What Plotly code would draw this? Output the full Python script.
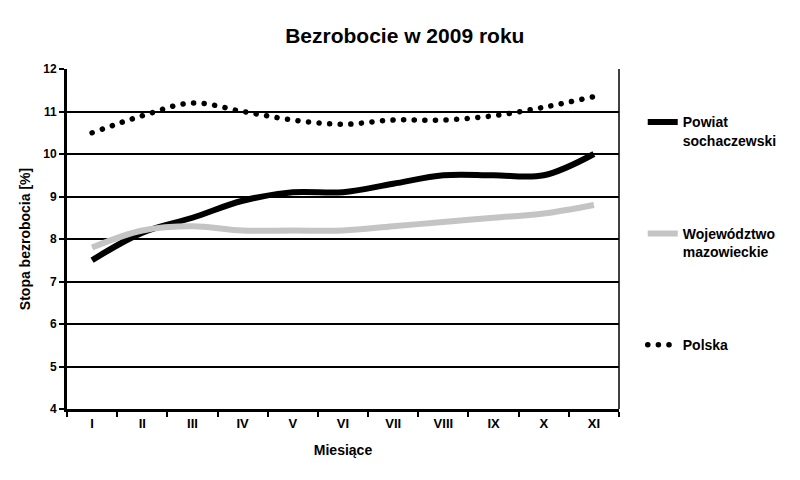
import plotly.graph_objects as go

months = ["I", "II", "III", "IV", "V", "VI", "VII", "VIII", "IX", "X", "XI"]
powiat = [7.5, 8.15, 8.5, 8.9, 9.1, 9.1, 9.3, 9.5, 9.5, 9.5, 10.0]
wojew = [7.8, 8.2, 8.3, 8.2, 8.2, 8.2, 8.3, 8.4, 8.5, 8.6, 8.8]
polska = [10.5, 10.9, 11.2, 11.0, 10.8, 10.7, 10.8, 10.8, 10.9, 11.1, 11.35]

FONT = "Liberation Sans, Arial, sans-serif"

fig = go.Figure()
fig.add_trace(go.Scatter(x=months, y=powiat, mode="lines", name="Powiat<br>sochaczewski",
                         legendgroup="a", line=dict(color="black", width=6, shape="spline", smoothing=1.0)))
fig.add_trace(go.Scatter(x=months, y=wojew, mode="lines", name="Województwo<br>mazowieckie",
                         legendgroup="b", line=dict(color="#c4c4c4", width=6, shape="spline", smoothing=1.0)))
fig.add_trace(go.Scatter(x=months, y=polska, mode="lines", name="Polska",
                         legendgroup="c", line=dict(color="black", width=5.5, shape="spline", smoothing=1.0,
                                                    dash="0.1px,10.5px")))

fig.add_shape(type="line", xref="paper", yref="paper", x0=1, x1=1, y0=0, y1=1,
              line=dict(color="black", width=1.5))

fig.update_layout(
    width=800, height=480,
    margin=dict(l=67, r=181, t=69, b=71),
    paper_bgcolor="white", plot_bgcolor="white",
    font=dict(family=FONT, color="black", size=12),
    title=dict(text="Bezrobocie w 2009 roku", x=0.506, xanchor="center", y=0.925, yanchor="middle",
               font=dict(size=21, weight="bold", family=FONT)),
    showlegend=True,
    legend=dict(x=1.043, xanchor="left", y=0.89, yanchor="top", tracegroupgap=72,
                valign="top", font=dict(size=14, weight="bold", family=FONT),
                itemwidth=30, bgcolor="rgba(0,0,0,0)"),
    xaxis=dict(type="category", range=[-0.5, 10.5], showgrid=False, showline=True,
               linecolor="black", linewidth=3,
               ticks="outside", tickson="boundaries", ticklen=5, tickwidth=2, tickcolor="black",
               tickfont=dict(size=13, weight="bold"),
               title=dict(text="Miesiące", font=dict(size=14, weight="bold"), standoff=16)),
    yaxis=dict(range=[4, 12], dtick=1, showgrid=True, gridcolor="black", gridwidth=1.5,
               showline=True, linecolor="black", linewidth=3, zeroline=False,
               ticks="outside", ticklen=5, tickwidth=2, tickcolor="black",
               tickfont=dict(size=12, weight="bold"),
               title=dict(text="Stopa bezrobocia [%]", font=dict(size=14, weight="bold"), standoff=10)),
)

post = """
document.querySelectorAll('.js-line').forEach(function(p){
  if (p.style.strokeDasharray && p.style.strokeDasharray.indexOf('10.5') >= 0) p.style.strokeLinecap='round';
});
"""

fig.write_html("out.html", post_script=post)
